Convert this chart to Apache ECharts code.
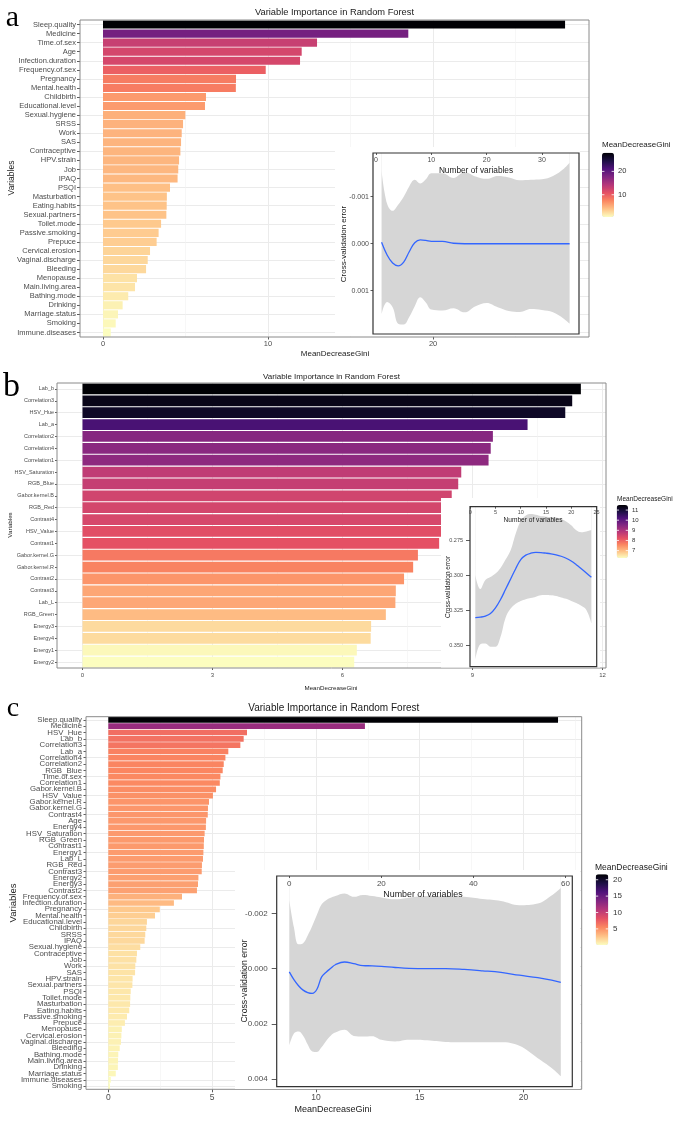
<!DOCTYPE html>
<html><head><meta charset="utf-8">
<script src="https://cdn.jsdelivr.net/npm/echarts@6/dist/echarts.min.js"></script>
<style>html,body{margin:0;padding:0;background:#fff}#chart{width:685px;height:1140px}</style>
</head><body><div id="chart"></div>
<script>
// ---------------- DATA ----------------
const catsA = ['Sleep.quality','Medicine','Time.of.sex','Age','Infection.duration','Frequency.of.sex','Pregnancy','Mental.health','Childbirth','Educational.level','Sexual.hygiene','SRSS','Work','SAS','Contraceptive','HPV.strain','Job','IPAQ','PSQI','Masturbation','Eating.habits','Sexual.partners','Toilet.mode','Passive.smoking','Prepuce','Cervical.erosion','Vaginal.discharge','Bleeding','Menopause','Main.living.area','Bathing.mode','Drinking','Marriage.status','Smoking','Immune.diseases'];
const valsA = [28.0,18.5,12.97,12.04,11.94,9.86,8.06,8.05,6.24,6.18,4.99,4.85,4.77,4.73,4.69,4.61,4.56,4.52,4.06,3.87,3.86,3.84,3.52,3.37,3.25,2.85,2.71,2.61,2.06,1.94,1.53,1.19,0.91,0.77,0.47];

const catsB = ['Lab_b','Correlation3','HSV_Hue','Lab_a','Correlation2','Correlation4','Correlation1','HSV_Saturation','RGB_Blue','Gabor.kernel.B','RGB_Red','Contrast4','HSV_Value','Contrast1','Gabor.kernel.G','Gabor.kernel.R','Contrast2','Contrast3','Lab_L','RGB_Green','Energy3','Energy4','Energy1','Energy2'];
const valsB = [11.5,11.3,11.14,10.27,9.47,9.42,9.37,8.74,8.67,8.52,8.48,8.44,8.29,8.23,7.74,7.63,7.42,7.23,7.22,7.0,6.66,6.65,6.33,6.27];

const catsC = ['Sleep.quality','Medicine','HSV_Hue','Lab_b','Correlation3','Lab_a','Correlation4','Correlation2','RGB_Blue','Time.of.sex','Correlation1','Gabor.kernel.B','HSV_Value','Gabor.kernel.R','Gabor.kernel.G','Contrast4','Age','Energy4','HSV_Saturation','RGB_Green','Contrast1','Energy1','Lab_L','RGB_Red','Contrast3','Energy2','Energy3','Contrast2','Frequency.of.sex','Infection.duration','Pregnancy','Mental.health','Educational.level','Childbirth','SRSS','IPAQ','Sexual.hygiene','Contraceptive','Job','Work','SAS','HPV.strain','Sexual.partners','PSQI','Toilet.mode','Masturbation','Eating.habits','Passive.smoking','Prepuce','Menopause','Cervical.erosion','Vaginal.discharge','Bleeding','Bathing.mode','Main.living.area','Drinking','Marriage.status','Immune.diseases','Smoking'];
const valsC = [21.66,12.36,6.68,6.52,6.36,5.78,5.64,5.56,5.51,5.40,5.37,5.19,5.04,4.85,4.80,4.79,4.71,4.70,4.64,4.61,4.60,4.58,4.56,4.51,4.50,4.34,4.32,4.27,3.55,3.16,2.48,2.25,1.86,1.83,1.78,1.75,1.54,1.38,1.35,1.30,1.29,1.17,1.16,1.08,1.06,1.05,1.01,0.90,0.80,0.65,0.63,0.61,0.55,0.48,0.47,0.46,0.36,0.12,0.08];

// cross-validation insets
const cvA_x    = [1,2,3,4,5,6,7,8,9,10,12,14,16,18,20,22,24,26,28,30,32,34,35];
const cvA_mean = [-0.00003,0.00024,0.00041,0.00047,0.00039,0.00017,-0.00002,-0.00008,-0.00007,-0.00005,-0.00005,-0.00001,0,0,0,0,0,0,0,0,0,0,0];
const cvA_lo   = [-0.00156,-0.00085,-0.00070,-0.00083,-0.00100,-0.00122,-0.00136,-0.00128,-0.00137,-0.00150,-0.00150,-0.00140,-0.00152,-0.00143,-0.00138,-0.00144,-0.00141,-0.00135,-0.00136,-0.00137,-0.00144,-0.00160,-0.00172];
const cvA_hi   = [0.00150,0.00124,0.00135,0.00170,0.00172,0.00156,0.00133,0.00114,0.00125,0.00140,0.00142,0.00137,0.00146,0.00133,0.00126,0.00135,0.00143,0.00145,0.00139,0.00141,0.00146,0.00160,0.00170];

const cvB_x    = [1,2,3,4,5,6,7,8,9,10,11,12,13,14,15,16,17,18,19,20,21,22,23,24];
const cvB_mean = [0.3300,0.3296,0.3288,0.3270,0.3230,0.3170,0.3097,0.3023,0.2950,0.2885,0.2853,0.2839,0.2834,0.2835,0.2839,0.2844,0.2851,0.2861,0.2875,0.2895,0.2921,0.2950,0.2980,0.3011];
const cvB_lo   = [0.2995,0.3095,0.3031,0.3010,0.2985,0.2945,0.2885,0.2818,0.2700,0.2610,0.2570,0.2559,0.2565,0.2575,0.2578,0.2580,0.2584,0.2595,0.2612,0.2640,0.2676,0.2690,0.2685,0.2674];
const cvB_hi   = [0.3602,0.3490,0.3485,0.3507,0.3507,0.3436,0.3300,0.3235,0.3200,0.3180,0.3168,0.3160,0.3150,0.3140,0.3138,0.3140,0.3145,0.3155,0.3165,0.3180,0.3195,0.3215,0.3245,0.3340];

const cvC_x    = [0,1,2,3,4,5,6,7,8,9,10,12,14,16,18,20,23,26,30,34,38,42,46,50,54,57,59];
const cvC_mean = [0.00012,0.00040,0.00062,0.00078,0.00087,0.00090,0.00075,0.00031,0.00013,-0.00001,-0.00014,-0.00024,-0.00018,-0.00011,-0.00010,-0.00008,-0.00004,-0.00001,0,0,0.00003,0.00008,0.00014,0.00024,0.00033,0.00042,0.00050];
const cvC_lo   = [-0.00248,-0.00150,-0.00088,-0.00092,-0.00120,-0.00155,-0.00195,-0.00232,-0.00248,-0.00257,-0.00263,-0.00272,-0.00260,-0.00267,-0.00263,-0.00258,-0.00251,-0.00257,-0.00263,-0.00262,-0.00260,-0.00252,-0.00245,-0.00230,-0.00236,-0.00265,-0.00292];
const cvC_hi   = [0.00279,0.00235,0.00228,0.00243,0.00275,0.00300,0.00302,0.00285,0.00262,0.00243,0.00232,0.00222,0.00244,0.00246,0.00245,0.00258,0.00264,0.00258,0.00260,0.00266,0.00267,0.00267,0.00267,0.00280,0.00325,0.00360,0.00390];

// tick labels
const xTicksA = [0,10,20], xTicksB = [0,3,6,9,12], xTicksC = [0,5,10,15,20];
const legTicksA = [10,20], legTicksB = [7,8,9,10,11], legTicksC = [5,10,15,20];
const inXA = [0,10,20,30], inYA = [-0.001,0,0.001];
const inXB = [0,5,10,15,20,25], inYB = [0.275,0.3,0.325,0.35];
const inXC = [0,20,40,60], inYC = [-0.002,0,0.002,0.004];

const TITLE = 'Variable Importance in Random Forest';
const LEGEND_TITLE = 'MeanDecreaseGini';

// ---------------- STYLE / LAYOUT ----------------
const FF = '"Liberation Sans", Arial, Helvetica, sans-serif';
const SERIF = '"Liberation Serif", "DejaVu Serif", serif';
const magma = ['#fcfdbf','#fec287','#fb8761','#e55064','#b5367a','#812581','#4f127b','#1c1044','#000004'];

const grid = [], xAxis = [], yAxis = [], series = [], visualMap = [], graphic = [];

function text(x, y, s, size, o) {
  o = o || {};
  graphic.push({type:'text', x:x, y:y, z:30, silent:true, rotation:o.rot ? Math.PI/2 : 0,
    style:{text:s, fontSize:size, fontFamily:o.ff || FF, fill:o.fill || '#1a1a1a',
      align:o.align || 'center', verticalAlign:'middle'}});
}

function addPanel(cats, vals, ticks, L) {
  const n = cats.length, band = L.h / n;
  let g = grid.length;
  grid.push({left:L.left, top:L.top, width:L.w, height:L.h, show:true, borderColor:'#8a8a8a', borderWidth:1,
    backgroundColor:'rgba(0,0,0,0)', z:3, outerBoundsMode:'none'});
  xAxis.push({gridIndex:g, type:'value', show:false, min:0, max:1});
  yAxis.push({gridIndex:g, type:'category', data:cats, inverse:true,
    axisLine:{show:false}, splitLine:{show:false},
    axisTick:{show:true, alignWithLabel:true, length:L.tick, lineStyle:{color:'#333', width:0.8}},
    axisLabel:{interval:0, fontSize:L.catFont, color:'#4d4d4d', fontFamily:FF, margin:L.catMargin}});
  g = grid.length;
  grid.push({left:L.left, top:L.top + band/2, width:L.w, height:L.h - band, show:false, outerBoundsMode:'none'});
  xAxis.push({gridIndex:g, type:'value', show:false, min:0, max:1});
  yAxis.push({gridIndex:g, type:'category', data:cats.slice(1), inverse:true,
    axisLine:{show:false}, axisTick:{show:false}, axisLabel:{show:false},
    splitLine:{show:true, lineStyle:{color:'#ebebeb', width:1}}});
  g = grid.length;
  grid.push({left:L.x0, top:L.top, width:L.left + L.w - L.x0, height:L.h, show:false, outerBoundsMode:'none'});
  xAxis.push({gridIndex:g, type:'value', min:0, max:L.xmax, interval:L.xint,
    axisLine:{show:false},
    axisTick:{show:true, length:L.xtick, lineStyle:{color:'#333', width:0.8}, customValues:ticks},
    axisLabel:{fontSize:L.xFont, color:'#4d4d4d', fontFamily:FF, margin:L.xMargin, customValues:ticks},
    splitLine:{show:true, lineStyle:{color:'#ebebeb', width:1}},
    minorTick:{show:false, splitNumber:2},
    minorSplitLine:{show:true, lineStyle:{color:'#f2f2f2', width:0.6}}});
  yAxis.push({gridIndex:g, type:'category', data:cats, inverse:true, show:false});
  const si = series.length;
  series.push({type:'bar', xAxisIndex:g, yAxisIndex:g, barCategoryGap:'10%', silent:true, z:2,
    data: vals.map((v, i) => [v, cats[i]])});
  return si;
}

function addColorbar(si, vals, ticks, C) {
  const mn = Math.min(...vals), mx = Math.max(...vals);
  visualMap.push({type:'continuous', seriesIndex:si, dimension:0, min:mn, max:mx, inRange:{color:magma},
    calculable:false, show:true, left:C.x, top:C.y, itemWidth:C.w, itemHeight:C.h, padding:0,
    hoverLink:false, realtime:false, textStyle:{fontSize:0}});
  text(C.tx, C.ty, LEGEND_TITLE, C.tfont, {align:'left'});
  ticks.forEach(t => {
    const y = C.y + C.h * (mx - t) / (mx - mn);
    graphic.push({type:'line', z:31, silent:true, shape:{x1:C.x, y1:y, x2:C.x + C.w*0.2, y2:y}, style:{stroke:'#fff', lineWidth:0.8}});
    graphic.push({type:'line', z:31, silent:true, shape:{x1:C.x + C.w*0.8, y1:y, x2:C.x + C.w, y2:y}, style:{stroke:'#fff', lineWidth:0.8}});
    text(C.lx, y, String(t), C.lfont, {align:'left', fill:'#333'});
  });
}

function addInset(xs, mean, lo, hi, xt, yt, I) {
  graphic.push({type:'rect', z:5, silent:true, shape:{x:I.bg[0], y:I.bg[1], width:I.bg[2], height:I.bg[3]}, style:{fill:'#fff'}});
  const g = grid.length;
  grid.push({left:I.left, top:I.top, width:I.w, height:I.h, show:true, borderColor:'#333', borderWidth:1.2,
    backgroundColor:'rgba(0,0,0,0)', z:16, outerBoundsMode:'none'});
  xAxis.push({gridIndex:g, type:'value', position:'top', min:I.xmin, max:I.xmax, z:17,
    axisLine:{show:false, onZero:false},
    axisTick:{show:true, inside:true, length:2, customValues:xt, lineStyle:{color:'#333', width:0.8}},
    axisLabel:{inside:true, customValues:xt, fontSize:I.font, color:'#4d4d4d', fontFamily:FF, margin:I.xm},
    splitLine:{show:false}});
  yAxis.push({gridIndex:g, type:'value', inverse:true, min:I.ymin, max:I.ymax, z:17,
    axisLine:{show:false, onZero:false},
    axisTick:{show:true, length:I.ytick, customValues:yt, lineStyle:{color:'#333', width:0.8}},
    axisLabel:{customValues:yt, fontSize:I.font, color:'#4d4d4d', fontFamily:FF, margin:I.ym,
      formatter: v => Number(v).toFixed(3)},
    splitLine:{show:false}});
  // grey band: fill from the top of the inset down to the upper-on-screen bound (hi) in grey,
  // then cover from the top down to the other bound (lo) in white
  series.push({type:'line', xAxisIndex:g, yAxisIndex:g, smooth:0.4, showSymbol:false, silent:true, z:12,
    lineStyle:{width:0, opacity:0}, areaStyle:{color:'#d6d6d6', opacity:1, origin:'start'},
    data: xs.map((x, i) => [x, hi[i]])});
  series.push({type:'line', xAxisIndex:g, yAxisIndex:g, smooth:0.4, showSymbol:false, silent:true, z:13,
    lineStyle:{width:0, opacity:0}, areaStyle:{color:'#ffffff', opacity:1, origin:'start'},
    data: xs.map((x, i) => [x, lo[i]])});
  series.push({type:'line', xAxisIndex:g, yAxisIndex:g, smooth:0.4, showSymbol:false, silent:true, z:14,
    lineStyle:{color:'#3366ff', width:1.3}, data: xs.map((x, i) => [x, mean[i]])});
}

// ---------------- PANEL a ----------------
const sA = addPanel(catsA, valsA, xTicksA, {left:80, top:20, w:509, h:317, x0:103, xmax:29.45, xint:10,
  tick:3, catFont:7.5, catMargin:4, xFont:7.5, xMargin:3, xtick:2.5});
addColorbar(sA, valsA, legTicksA, {x:602, y:152.7, w:12, h:64.3, tx:602, ty:145, tfont:8, lx:618, lfont:7.5});
addInset(cvA_x, cvA_mean, cvA_lo, cvA_hi, inXA, inYA, {left:373, top:153, w:206, h:181, xmin:-0.55, xmax:36.7,
  ymin:-0.00193, ymax:0.00192, font:7, xm:4, ym:4, ytick:2.5, bg:[335,147,245,189]});
text(12.5, 18, 'a', 30, {ff:SERIF, fill:'#000'});
text(334.5, 12.7, TITLE, 9.3);
text(335, 354, LEGEND_TITLE, 8);
text(12, 178, 'Variables', 8.5, {rot:true});
text(476, 171, 'Number of variables', 8.3);
text(344, 244, 'Cross-validation error', 8, {rot:true});

// ---------------- PANEL b ----------------
const sB = addPanel(catsB, valsB, xTicksB, {left:57, top:383, w:549, h:285, x0:82.5, xmax:12.08, xint:3,
  tick:2, catFont:5.5, catMargin:3, xFont:6, xMargin:4, xtick:2});
addColorbar(sB, valsB, legTicksB, {x:616.7, y:505, w:11.3, h:53, tx:617, ty:499.3, tfont:6.5, lx:632, lfont:6});
addInset(cvB_x, cvB_mean, cvB_lo, cvB_hi, inXB, inYB, {left:470, top:506.7, w:126.7, h:160, xmin:-0.05, xmax:25.05,
  ymin:0.2507, ymax:0.365, font:5.5, xm:3, ym:7, ytick:4, bg:[441,498,159,169.5]});
text(11.5, 387, 'b', 34, {ff:SERIF, fill:'#000'});
text(331.5, 377, TITLE, 8);
text(331, 688, LEGEND_TITLE, 6.2);
text(10, 525, 'Variables', 6.2, {rot:true});
text(533, 520, 'Number of variables', 6.6);
text(448, 587, 'Cross-validation error', 6.5, {rot:true});

// ---------------- PANEL c ----------------
const sC = addPanel(catsC, valsC, xTicksC, {left:86, top:716.7, w:495.7, h:372.6, x0:108.3, xmax:22.8, xint:5,
  tick:2.5, catFont:7.8, catMargin:4, xFont:8.5, xMargin:4, xtick:3});
addColorbar(sC, valsC, legTicksC, {x:595.7, y:874.3, w:12.6, h:70.7, tx:595, ty:867.7, tfont:8.5, lx:613, lfont:8});
addInset(cvC_x, cvC_mean, cvC_lo, cvC_hi, inXC, inYC, {left:276.7, top:876, w:295.6, h:210.7, xmin:-2.74, xmax:61.5,
  ymin:-0.003356, ymax:0.00428, font:8, xm:4, ym:9, ytick:5, bg:[235,870,345,219]});
text(13, 708.4, 'c', 28, {ff:SERIF, fill:'#000'});
text(333.8, 708.3, TITLE, 10);
text(333, 1110, LEGEND_TITLE, 9);
text(13, 903, 'Variables', 9.5, {rot:true});
text(423, 895, 'Number of variables', 8.9);
text(245, 981, 'Cross-validation error', 8.7, {rot:true});

const chart = echarts.init(document.getElementById('chart'), null, {renderer:'canvas', width:685, height:1140});
chart.setOption({
  animation:false,
  backgroundColor:'#fff',
  grid:grid, xAxis:xAxis, yAxis:yAxis, series:series, visualMap:visualMap,
  graphic:{elements:graphic}
});
</script></body></html>
